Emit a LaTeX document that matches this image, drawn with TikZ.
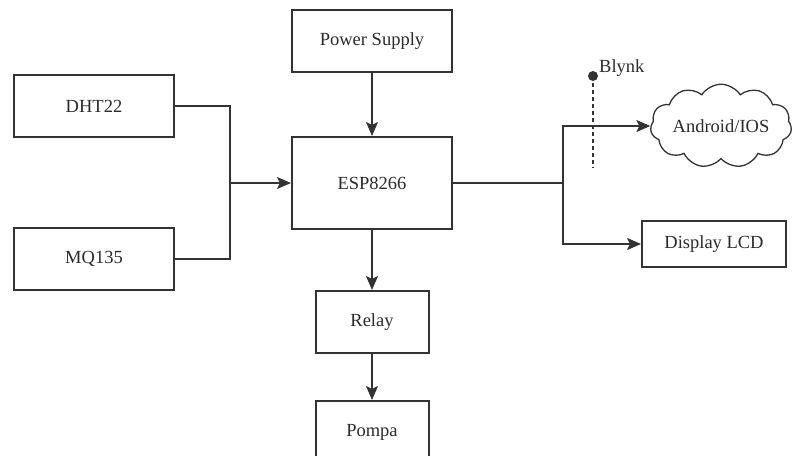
\documentclass[tikz,border=0pt]{standalone}
\usepackage{fontspec}
\setmainfont{Liberation Serif}
\usepackage{xcolor}
\definecolor{bdline}{HTML}{333333}
\definecolor{bdtext}{HTML}{2B2B2B}
\usepackage{tikz}
\usetikzlibrary{positioning,shapes.symbols,arrows.meta}

\begin{document}
\begin{tikzpicture}[
      x=1pt, y=-1pt,
      font=\fontsize{18.5}{22}\selectfont,
      blok/.style={draw=bdline, line width=2pt, fill=white, text=bdtext,
                   minimum width=160pt, minimum height=62pt, inner sep=2pt},
      awan/.style={cloud, cloud puffs=11, cloud puff arc=115, aspect=2.1,
                   draw=bdline, line width=1.3pt, text=bdtext,
                   minimum width=138pt, minimum height=72pt, inner sep=0pt},
      ln/.style={draw=bdline, line width=1.6pt},
      ar/.style={ln, -{Stealth[length=14pt, width=12pt, inset=3pt]}},
    ]
    \useasboundingbox (0,0) rectangle (792,455);

    % ---------- controller ----------
    \node[blok, minimum height=92pt] (esp) at (372,183) {ESP8266};
    \node[blok, above=63pt of esp] (psu) {Power Supply};

    % ---------- sensors ----------
    \node[blok] (dht) at (94,106) {DHT22};
    \node[blok] (mq) at (94,259) {MQ135};

    % ---------- actuator ----------
    \node[blok, below=60pt of esp, minimum width=113pt] (relay) {Relay};
    \node[blok, below=46pt of relay, minimum width=113pt] (pompa) {Pompa};

    % ---------- outputs ----------
    \node[awan] (hp) at (721,126) {Android/IOS};
    \node[blok, minimum width=144pt, minimum height=46pt] (lcd) at (714,244)
      {Display LCD};

    % ---------- Blynk ----------
    \coordinate (bk) at (593,76);
    \coordinate (bkend) at (593,168);
    \draw[ln, dashed, dash pattern=on 4pt off 3pt] (bk) -- (bkend);
    \fill[bdline] (bk) circle (5pt);
    \node[anchor=south west, inner sep=1pt, text=bdtext] (blynk)
      at ([xshift=5pt, yshift=-2pt]bk) {Blynk};

    % ---------- flow ----------
    \coordinate (jn) at (230,183);
    \coordinate (sp) at (563,183);
    \draw[ln] (dht.east) -| (jn);
    \draw[ln] (mq.east) -| (jn);
    \draw[ar] (jn) -- (esp.west);
    \draw[ar] (psu) -- (esp);
    \draw[ar] (esp) -- (relay);
    \draw[ar] (relay) -- (pompa);
    \draw[ln] (esp.east) -- (sp);
    \draw[ar] (sp) |- (hp.west);
    \draw[ar] (sp) |- (lcd.west);

  \end{tikzpicture}
\end{document}
